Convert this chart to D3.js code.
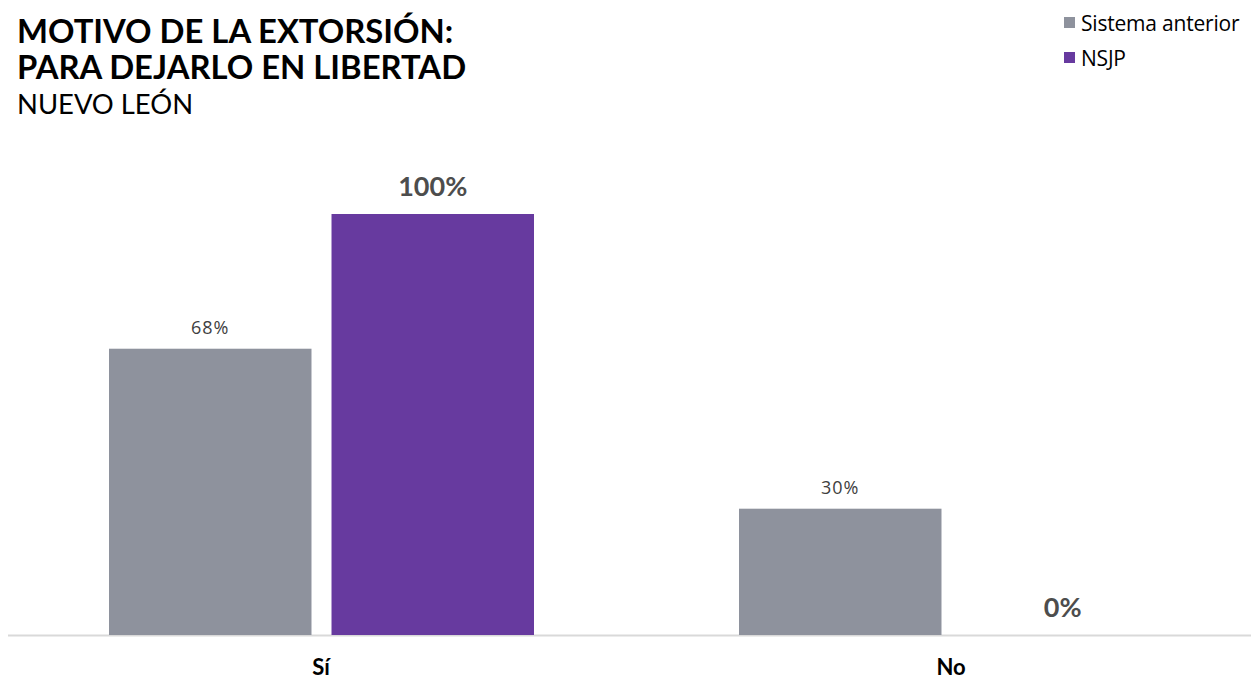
<!DOCTYPE html>
<html><head><meta charset="utf-8">
<script src="https://cdn.jsdelivr.net/npm/d3@7"></script>
<style>body{margin:0;background:#fff}svg{display:block}</style>
</head><body>
<script>
const categories = ["Sí", "No"];
const seriesNames = ["Sistema anterior", "NSJP"];
const sistemaAnterior = [68, 30];
const nsjp = [100, 0];
const colors = ["#8e929d", "#673a9f"];

const W = 1251, H = 679;
const svg = d3.select("body").append("svg").attr("width", W).attr("height", H);

const baseY = 635;
const y = d3.scaleLinear().domain([0, 100]).range([baseY, 214]);
const x0 = d3.scaleBand().domain(categories).range([6, 1266]).padding(0);
const x1 = d3.scaleBand().domain(seriesNames).range([103, 528]).paddingInner(0.09).paddingOuter(0);

const data = categories.map((c, i) => ({cat: c, vals: [sistemaAnterior[i], nsjp[i]]}));

// axis line
svg.append("line").attr("x1", 8).attr("x2", W).attr("y1", baseY + 0.5).attr("y2", baseY + 0.5)
  .attr("stroke", "#d9d9d9").attr("stroke-width", 2);

const g = svg.selectAll("g.grp").data(data).enter().append("g")
  .attr("transform", d => `translate(${x0(d.cat)},0)`);

g.selectAll("rect").data(d => d.vals.map((v, j) => ({v, s: seriesNames[j], j})))
  .enter().append("rect")
  .attr("x", d => x1(d.s)).attr("width", x1.bandwidth())
  .attr("y", d => y(d.v)).attr("height", d => baseY - y(d.v))
  .attr("fill", d => colors[d.j]);

g.selectAll("text.lbl").data(d => d.vals.map((v, j) => ({v, s: seriesNames[j], j})))
  .enter().append("text")
  .attr("x", d => x1(d.s) + x1.bandwidth() / 2)
  .attr("y", d => d.j === 0 ? y(d.v) - 15 : y(d.v) - 18)
  .attr("text-anchor", "middle")
  .attr("font-family", d => d.j === 0 ? "'Open Sans', 'Noto Sans', sans-serif" : "Lato, sans-serif")
  .attr("font-weight", d => d.j === 0 ? 400 : 700)
  .attr("font-size", d => d.j === 0 ? 18 : 27)
  .attr("letter-spacing", d => d.j === 0 ? 1 : 0)
  .attr("fill", d => d.j === 0 ? "#404040" : "#4d4d4d")
  .text(d => d.v + "%");

// category labels
svg.selectAll("text.cat").data(categories).enter().append("text")
  .attr("x", d => x0(d) + x0.bandwidth() / 2)
  .attr("y", 675)
  .attr("text-anchor", "middle")
  .attr("font-family", "Lato, sans-serif").attr("font-weight", 700).attr("font-size", 22)
  .attr("fill", "#000").text(d => d);

// titles
const tf = "Lato, sans-serif";
svg.append("text").attr("x", 17).attr("y", 43).attr("font-family", tf).attr("font-weight", 700)
  .attr("font-size", 32.8).attr("fill", "#000").text("MOTIVO DE LA EXTORSIÓN:");
svg.append("text").attr("x", 17).attr("y", 79).attr("font-family", tf).attr("font-weight", 700)
  .attr("font-size", 32.8).attr("fill", "#000").text("PARA DEJARLO EN LIBERTAD");
svg.append("text").attr("x", 17).attr("y", 114).attr("font-family", tf).attr("font-weight", 400)
  .attr("font-size", 27.4).attr("fill", "#000").text("NUEVO LEÓN");

// legend
const lg = svg.selectAll("g.leg").data(seriesNames).enter().append("g")
  .attr("transform", (d, i) => `translate(1064,${17 + i * 35})`);
lg.append("rect").attr("width", 11).attr("height", 11).attr("fill", (d, i) => colors[i]);
lg.append("text").attr("x", 17).attr("y", 14).attr("font-family", "'Open Sans', 'Noto Sans', sans-serif")
  .attr("font-size", 21).attr("letter-spacing", -0.2).attr("fill", "#000").text(d => d);
</script>
</body></html>
